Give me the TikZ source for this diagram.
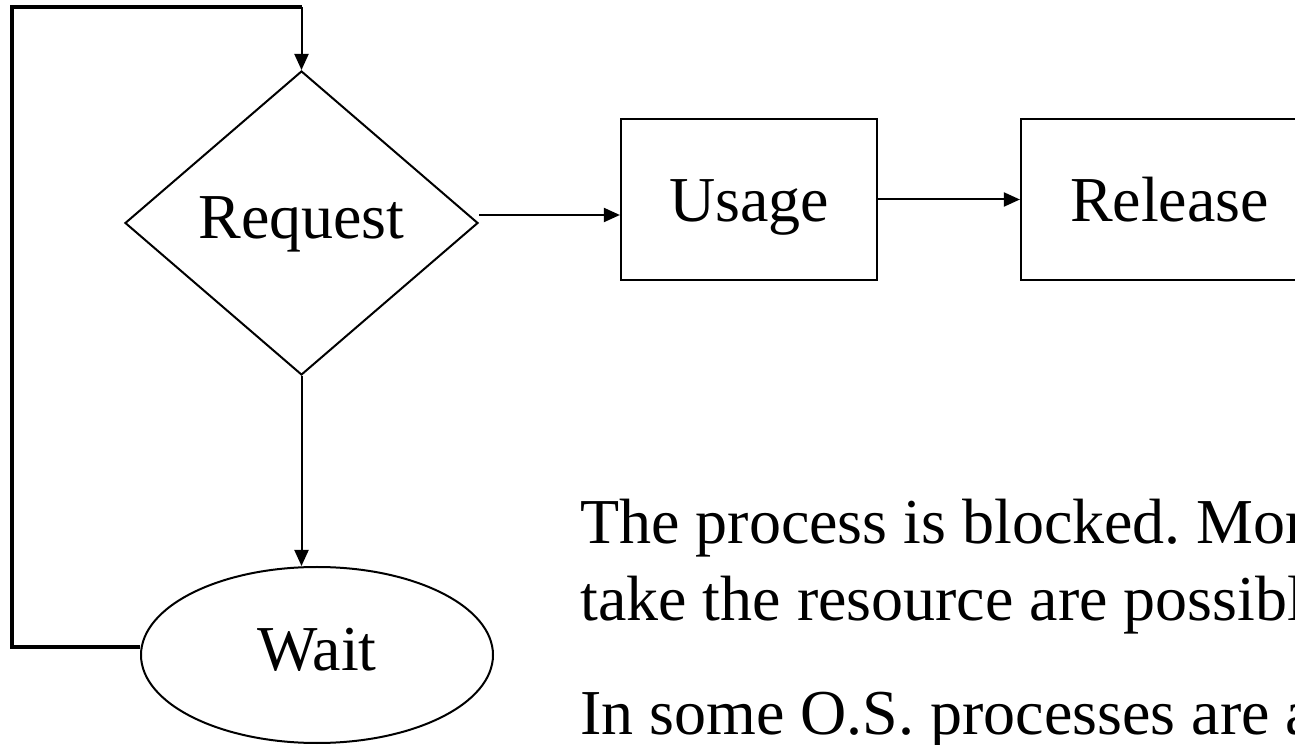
\documentclass[tikz,border=0pt]{standalone}
\usepackage{fontspec}
\setmainfont{Liberation Serif}
\usetikzlibrary{shapes.geometric,arrows.meta}
\frenchspacing
\tikzset{
  big/.style={font=\fontsize{64}{77}\selectfont},
  decision/.style={diamond,draw,line width=2pt,inner sep=0pt,
    minimum width=353pt,minimum height=304pt,big,
    text height=43.5pt,text depth=12.8pt},
  stepbox/.style={rectangle,draw,line width=2.2pt,inner sep=0pt,
    minimum height=161pt,big,text height=43.5pt,text depth=0pt},
  waitshape/.style={ellipse,draw,line width=2pt,inner sep=0pt,
    minimum width=352pt,minimum height=176pt,big,
    text height=43.5pt,text depth=12.8pt},
  conn/.style={line width=2pt,-{Triangle[length=16pt,width=14pt]}},
  backloop/.style={line width=3.5pt,line join=miter},
}
\begin{document}
\begin{tikzpicture}[x=1pt,y=1pt]
  \useasboundingbox (0,0) rectangle (1295,744);
  \clip (0,0) rectangle (1295,744);

  % flow nodes
  \node[decision] (req) at (301.5,521) {Request};
  \node[stepbox,minimum width=256pt] (use) at (749,544.5) {Usage};
  \node[stepbox,minimum width=297pt] (rel) at (1169.5,544.5) {Release};
  \node[waitshape] (wait) at (317,89) {Wait};

  % helper points
  \coordinate (rq) at ([yshift=8pt]req.east);
  \coordinate (lw) at ([yshift=8pt]wait.west);
  \coordinate (lc) at (12,737);
  \coordinate (lt) at (lc -| req.north);

  % connectors
  \draw[conn] (rq) -- (rq -| use.west);
  \draw[conn] (use.east) -- (rel.west);
  \draw[conn] (req.south) -- (req.south |- wait.north);
  \draw[backloop] (lw) -- (lw -| lc) -- (lc) -- (lt);
  \draw[conn] (lt) -- (req.north);

  % explanatory text (anchored at the baseline of its last line)
  \node[big,anchor=base west,align=left,inner sep=0pt] (note) at (580,10)
    {The process is blocked. Mor\\take the resource are possibl\\[37pt]In some O.S. processes are a};
\end{tikzpicture}
\end{document}
